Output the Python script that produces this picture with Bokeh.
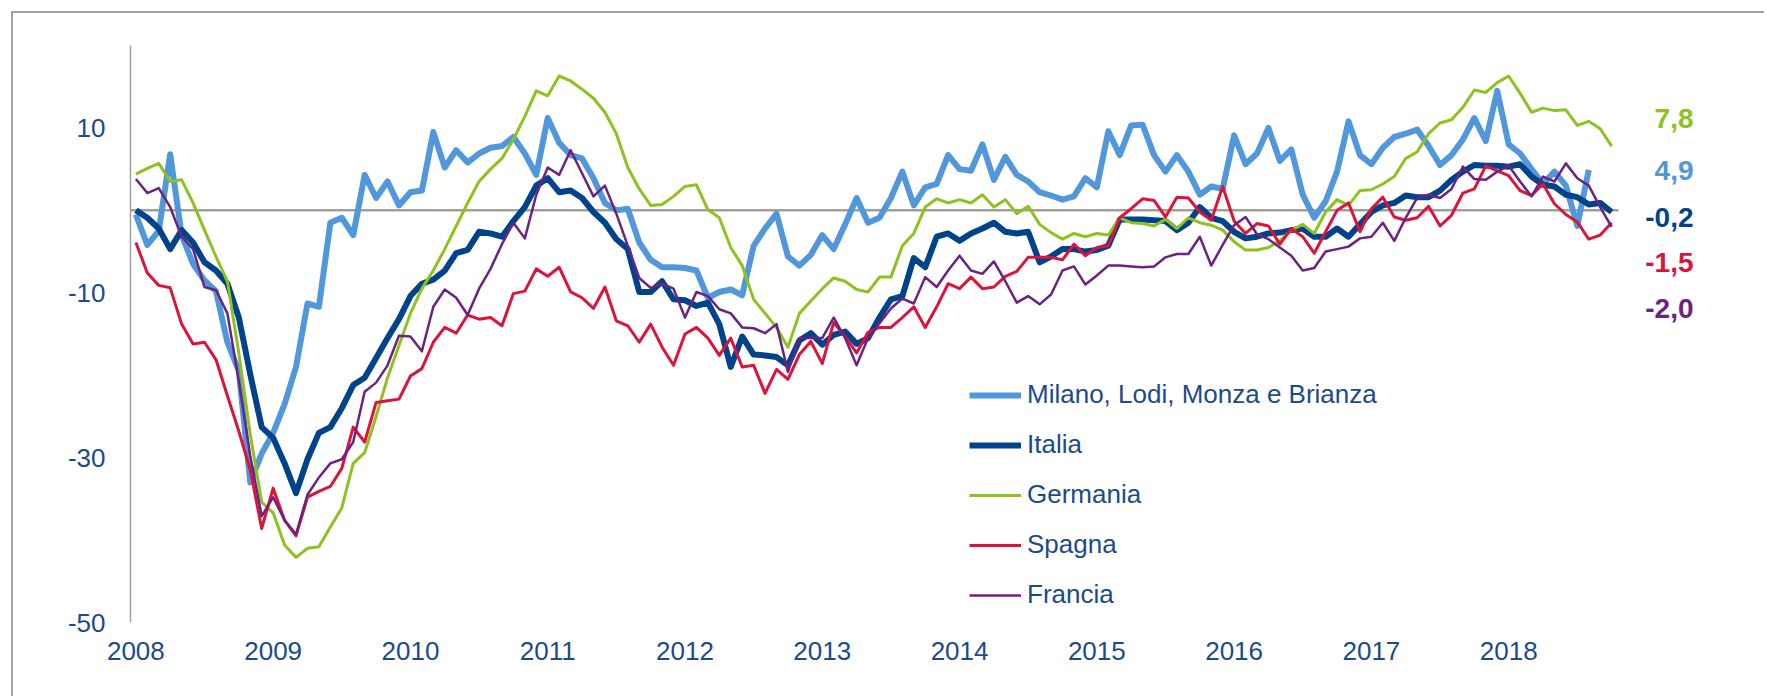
from bokeh.plotting import figure
from bokeh.models import Range1d, FixedTicker
from bokeh.core.properties import value
from bokeh.embed import file_html
from bokeh.resources import INLINE

# ---------------- data (monthly, Jan 2008 = index 0) ----------------
years = ["2008", "2009", "2010", "2011", "2012", "2013", "2014", "2015", "2016", "2017", "2018"]
y_ticks = [-50, -30, -10, 10]

milano = [-0.5, -4.2, -2.5, 6.8, -3.0, -6.5, -8.5, -9.8, -16.0, -19.5, -33.0, -29.5, -27.0, -23.5, -19.0, -11.3,
          -11.7, -1.5, -0.9, -3.0, 4.3, 1.5, 3.5, 0.6, 2.2, 2.4, 9.5, 5.2, 7.3, 5.8, 6.9, 7.6,
          7.8, 8.9, 6.9, 4.3, 11.2, 8.2, 6.7, 6.3, 3.9, 0.9, 0.0, 0.2, -3.9, -6.0, -6.9, -6.9,
          -7.0, -7.3, -10.6, -9.9, -9.6, -10.3, -4.3, -2.2, -0.4, -5.6, -6.7, -5.4, -3.0, -4.7, -1.7, 1.5,
          -1.5, -0.9, 1.5, 4.7, 0.6, 2.8, 3.2, 6.7, 5.0, 4.8, 8.0, 3.7, 6.5, 4.3, 3.5, 2.2,
          1.8, 1.3, 1.7, 3.9, 2.8, 9.6, 6.7, 10.3, 10.4, 6.7, 4.7, 6.7, 4.7, 1.9, 2.9, 2.6,
          9.1, 5.6, 6.9, 10.0, 6.0, 7.4, 1.9, -0.9, 1.1, 4.7, 10.8, 6.7, 5.6, 7.6, 8.9, 9.3,
          9.8, 7.8, 5.5, 6.7, 8.6, 11.2, 8.4, 14.5, 8.0, 6.9, 5.0, 3.2, 4.7, 3.0, -1.9, 4.9]

italia = [0.0, -0.9, -2.2, -4.7, -2.4, -3.9, -6.3, -7.3, -8.9, -13.0, -19.9, -26.3, -27.6, -30.7, -34.3, -30.2,
          -27.0, -26.3, -24.0, -21.2, -20.3, -17.9, -15.5, -13.2, -10.4, -8.9, -8.4, -7.3, -5.2, -4.8, -2.6, -2.8,
          -3.2, -1.3, 0.4, 3.0, 3.9, 2.2, 2.4, 1.5, -0.2, -1.5, -3.5, -4.7, -9.9, -9.9, -8.6, -10.8,
          -10.9, -11.6, -11.2, -13.8, -19.0, -15.3, -17.5, -17.6, -17.8, -18.8, -15.8, -14.9, -16.3, -15.1, -14.7, -16.2,
          -15.5, -13.0, -10.8, -10.4, -5.8, -6.9, -3.2, -2.8, -3.7, -2.8, -2.2, -1.5, -2.6, -2.8, -2.6, -6.3,
          -5.6, -4.7, -4.7, -5.0, -4.8, -4.3, -1.1, -1.1, -1.1, -1.2, -1.3, -2.4, -1.5, 0.4, -0.9, -1.3,
          -2.6, -3.4, -3.2, -2.8, -2.7, -2.4, -2.2, -3.2, -3.2, -2.2, -3.2, -1.7, -0.2, 0.6, 0.9, 1.8,
          1.6, 1.6, 2.4, 3.7, 4.7, 5.5, 5.4, 5.4, 5.3, 5.6, 4.1, 3.1, 2.9, 1.9, 1.6, 0.7, 0.9, -0.2]

germania = [4.4, 5.1, 5.7, 3.5, 3.7, 0.9, -2.4, -5.6, -8.6, -17.3, -27.2, -35.4, -36.7, -40.6, -42.1, -41.0,
            -40.8, -38.4, -36.1, -30.7, -29.4, -25.0, -20.3, -16.4, -12.5, -9.5, -7.3, -4.7, -1.9, 0.9, 3.5, 5.0,
            6.3, 8.6, 11.4, 14.5, 13.9, 16.3, 15.7, 14.7, 13.6, 11.9, 9.3, 5.2, 2.6, 0.6, 0.7, 1.7,
            2.9, 3.1, 0.1, -0.9, -4.5, -6.7, -10.8, -12.5, -14.2, -16.6, -12.5, -11.0, -9.5, -8.2, -8.6, -9.6,
            -9.9, -8.1, -8.1, -4.3, -2.8, 0.4, 1.4, 0.9, 1.3, 0.9, 1.9, 0.4, 1.3, -0.4, 0.5, -1.7,
            -2.7, -3.5, -2.8, -3.2, -2.8, -3.0, -0.9, -1.5, -1.6, -1.9, -1.1, -2.2, -0.9, -1.5, -1.8, -2.4,
            -3.8, -4.8, -4.8, -4.5, -3.7, -2.4, -1.7, -2.8, -0.2, 1.3, 0.6, 2.4, 2.5, 3.2, 4.1, 6.3,
            7.1, 9.3, 10.6, 11.0, 12.5, 14.6, 14.3, 15.5, 16.3, 14.2, 11.9, 12.4, 12.1, 12.2, 10.3, 10.8, 9.9, 7.8]

spagna = [-3.9, -7.6, -9.1, -9.4, -13.8, -16.2, -16.0, -18.1, -22.5, -26.8, -31.5, -38.6, -33.7, -37.6, -39.5, -34.8,
          -34.1, -33.5, -31.3, -26.3, -28.1, -23.3, -23.1, -22.9, -20.1, -19.2, -16.0, -14.2, -14.9, -12.7, -13.2, -13.0,
          -14.0, -10.1, -9.8, -7.1, -8.0, -6.9, -9.9, -10.6, -11.9, -9.3, -13.4, -14.0, -16.0, -13.8, -16.6, -18.8,
          -15.0, -14.2, -15.5, -17.6, -15.5, -19.0, -18.8, -22.2, -19.3, -20.5, -17.5, -15.9, -18.6, -13.6, -15.3, -17.3,
          -14.8, -14.2, -14.2, -13.0, -11.7, -14.2, -11.7, -8.9, -9.5, -8.1, -9.5, -9.3, -8.0, -7.4, -5.7, -5.7,
          -5.7, -6.0, -4.1, -5.5, -4.5, -4.3, -0.9, 0.2, 1.4, 1.2, -0.8, 1.6, 1.5, -0.2, -1.2, 2.9,
          -1.3, -2.8, -1.6, -1.9, -4.1, -2.2, -3.2, -5.2, -2.6, 0.0, 0.9, -2.6, 0.2, 1.6, -0.8, -1.2,
          -0.9, 0.5, -1.9, -0.6, 2.1, 2.6, 5.4, 4.8, 4.2, 2.4, 1.8, 3.2, 0.8, -0.5, -1.4, -3.5, -3.0, -1.5]

francia = [3.8, 2.1, 2.7, 0.4, -3.2, -4.7, -9.3, -9.7, -12.5, -20.7, -29.8, -37.1, -34.8, -37.6, -39.3, -34.5,
           -32.4, -30.7, -30.2, -28.1, -22.0, -20.9, -18.8, -15.2, -15.3, -17.1, -11.7, -9.6, -10.6, -12.7, -9.5, -7.1,
           -4.1, -1.5, -3.4, 1.9, 5.2, 4.3, 7.3, 4.5, 1.7, 3.0, -0.4, -4.3, -8.2, -9.4, -8.9, -9.5,
           -13.0, -9.9, -10.4, -12.0, -12.5, -14.2, -14.3, -14.9, -13.8, -19.6, -15.5, -15.5, -15.5, -13.0, -15.5, -18.8,
           -15.5, -13.7, -11.9, -10.7, -11.3, -8.1, -9.3, -7.3, -5.5, -7.3, -7.7, -6.2, -8.6, -11.2, -10.4, -11.4,
           -10.2, -7.3, -6.8, -9.0, -7.9, -6.7, -6.7, -6.8, -6.9, -6.8, -5.7, -5.3, -5.3, -3.2, -6.7, -4.2,
           -1.8, -0.8, -2.9, -3.5, -4.5, -5.5, -7.3, -7.0, -5.0, -4.7, -4.4, -3.4, -3.2, -1.5, -3.7, -0.9,
           1.5, 1.9, 1.5, 2.6, 5.3, 3.8, 3.7, 4.7, 5.4, 3.5, 1.7, 4.1, 3.5, 5.7, 3.9, 3.0, 0.4, -2.0]

series_names = ["Milano, Lodi, Monza e Brianza", "Italia", "Germania", "Spagna", "Francia"]

# ---------------- styling / layout ----------------
FONT = "Liberation Sans"
TXT = "#1c4a8a"
colors = {"Milano, Lodi, Monza e Brianza": "#5097dc", "Italia": "#00438a",
          "Germania": "#8fc11f", "Spagna": "#dc143c", "Francia": "#6a2383"}
widths = {"Milano, Lodi, Monza e Brianza": 6, "Italia": 6, "Germania": 3, "Spagna": 3, "Francia": 2.5}
data = {"Milano, Lodi, Monza e Brianza": milano, "Italia": italia, "Germania": germania,
        "Spagna": spagna, "Francia": francia}

OFF = 13                       # outer frame margin (11) + frame line (2)
W, H = 1766 - OFF, 698 - OFF
LEFT, TOP = 130 - OFF, 45 - OFF
FRAME_H = 577
BOTTOM = H - TOP - FRAME_H
PX_PER_MONTH = 1488 / 130.07
X0 = -0.47
frame_w = W - LEFT
x_end = X0 + frame_w / PX_PER_MONTH
zero_end = X0 + 1488 / PX_PER_MONTH

p = figure(width=W, height=H, output_backend="svg", toolbar_location=None,
           x_range=Range1d(X0, x_end), y_range=Range1d(-50, 20),
           min_border_left=LEFT, min_border_right=0, min_border_top=TOP, min_border_bottom=BOTTOM)
p.background_fill_color = "white"
p.border_fill_color = "white"
p.outline_line_color = None
p.grid.visible = False
# outer grey frame of the slide (top + left edges visible)
p.styles = {"margin-left": "11px", "margin-top": "11px",
            "border-left": "2px solid #a3a3a3", "border-top": "2px solid #a3a3a3"}

# zero reference line
p.segment(x0=[X0], y0=[0], x1=[zero_end], y1=[0], line_color="#a09f9a", line_width=2.5)

# axes
xa = p.xaxis[0]
xa.ticker = FixedTicker(ticks=[12 * i for i in range(len(years))])
xa.major_label_overrides = {12 * i: y for i, y in enumerate(years)}
xa.axis_line_color = None
xa.major_tick_line_color = None
xa.minor_tick_line_color = None
xa.major_tick_out = 0
xa.major_label_standoff = 19
xa.major_label_text_font = FONT
xa.major_label_text_font_size = "26px"
xa.major_label_text_color = TXT

ya = p.yaxis[0]
ya.ticker = FixedTicker(ticks=y_ticks)
ya.major_label_overrides = {t: str(t) for t in y_ticks}
ya.axis_line_color = "#a0a0a0"
ya.axis_line_width = 1.5
ya.major_tick_line_color = None
ya.minor_tick_line_color = None
ya.major_tick_out = 0
ya.major_label_standoff = 25
ya.major_label_text_font = FONT
ya.major_label_text_font_size = "26px"
ya.major_label_text_color = TXT

months = list(range(len(italia)))
for name in series_names:
    vals = data[name]
    p.line(months[:len(vals)], vals, line_color=colors[name], line_width=widths[name],
           line_join="round", legend_label=name)

lg = p.legend[0]
lg.location = (839, 12)
lg.background_fill_alpha = 0
lg.border_line_color = None
lg.padding = 0
lg.margin = 0
lg.spacing = 19
lg.glyph_width = 52
lg.glyph_height = 30
lg.label_height = 30
lg.label_standoff = 6
lg.label_text_font = FONT
lg.label_text_font_size = "26px"
lg.label_text_color = TXT

# end-value labels, stacked at the right of the lines
label_order = ["Germania", "Milano, Lodi, Monza e Brianza", "Italia", "Spagna", "Francia"]
label_y = [11.1, 4.85, -0.9, -6.3, -11.9]
label_x = X0 + (1693 - 130) / PX_PER_MONTH
p.text(x=[label_x] * len(label_order), y=label_y,
       text=[f"{data[n][-1]:.1f}".replace(".", ",") for n in label_order],
       text_color=[colors[n] for n in label_order],
       text_align="right", text_baseline="middle",
       text_font=value(FONT), text_font_size="28px", text_font_style="bold")

open("out.html", "w").write(file_html(p, INLINE))
